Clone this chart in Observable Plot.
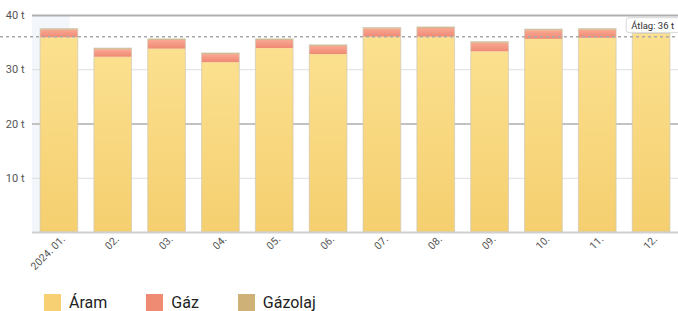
<!DOCTYPE html>
<html><head><meta charset="utf-8">
<script src="https://cdn.jsdelivr.net/npm/d3@7"></script>
<script src="https://cdn.jsdelivr.net/npm/@observablehq/plot@0.6"></script>
<style>
body{margin:0;background:#fff;font-family:Roboto,sans-serif;overflow:hidden;}
#legend{display:flex;align-items:center;margin:14px 0 0 44px;font-size:16px;color:#222;height:17px;}
.item{display:flex;align-items:center;margin-right:39px;}
.sw{width:17px;height:17px;margin-right:8px;}
</style></head><body><div id="chart"></div><div id="legend"></div>
<script>
const months = ["2024. 01.","02.","03.","04.","05.","06.","07.","08.","09.","10.","11.","12."];
const aram = [35.9,32.3,33.8,31.3,33.9,32.8,36.0,36.0,33.3,35.6,35.8,36.6];
const gaz = [1.4,1.4,1.6,1.5,1.5,1.5,1.5,1.6,1.6,1.6,1.5,0];
const gazolaj = [0.2,0.2,0.2,0.2,0.2,0.2,0.2,0.2,0.2,0.2,0.2,0.1];
const average = 36;
const yTicks = [10,20,30,40];
const series = ["Áram","Gáz","Gázolaj"];
const colors = ["#f6d073","#ef8a73","#cdb177"];

const rows = [];
months.forEach((m,i)=>{
  rows.push({month:m, series:"Áram", value:aram[i]});
  rows.push({month:m, series:"Gáz", value:gaz[i]});
  rows.push({month:m, series:"Gázolaj", value:gazolaj[i]});
});
const totals = months.map((m,i)=>({month:m, total:aram[i]+gaz[i]+gazolaj[i]}));

const W = 678, H = 280;
const plot = Plot.plot({
  width: W, height: H,
  marginLeft: 32, marginRight: 0, marginTop: 15, marginBottom: 48,
  style: {fontFamily: "Roboto, sans-serif", background: "#fff"},
  x: {type: "band", domain: months, paddingInner: 0.3, paddingOuter: 0.15, round: false, label: null},
  y: {domain: [0, 40], label: null},
  color: {domain: series, range: ["url(#gA)","url(#gG)","url(#gO)"]},
  marks: [
    Plot.barY([months[0]], {x: d=>d, y1: 0, y2: 40, fill: "#f3f6fb", dx: -8}),
    Plot.ruleY(yTicks.filter(d=>d===10||d===30), {stroke: "#dedede", strokeWidth: 1}),
    Plot.ruleY(yTicks.filter(d=>d===20), {stroke: "#c2c2c2", strokeWidth: 2}),
    Plot.ruleY(yTicks.filter(d=>d===40), {stroke: "#b0b0b0", strokeWidth: 2}),
    Plot.barY(rows, {x: "month", y: "value", fill: "series", order: series}),
    Plot.barY(totals, {x: "month", y: "total", fill: "none", stroke: "#cfc7b5", strokeOpacity: 0.7, strokeWidth: 1}),
    Plot.ruleY([0], {stroke: "#d0d0d0", strokeWidth: 2}),
    Plot.axisY({ticks: yTicks, tickFormat: d=>`${d} t`, tickSize: 0, tickPadding: 8, fontSize: 11, color: "#555"}),
    Plot.axisX({tickRotate: -45, tickSize: 0, tickPadding: 5, dx: 4, fontSize: 10.5, color: "#555"})
  ]
});
const svg = d3.select(plot);
const defs = svg.insert("defs", ":first-child");
function grad(id, top, bottom){
  const g = defs.append("linearGradient").attr("id", id).attr("x1",0).attr("y1",0).attr("x2",0).attr("y2",1);
  g.append("stop").attr("offset","0%").attr("stop-color",top);
  g.append("stop").attr("offset","100%").attr("stop-color",bottom);
}
grad("gA","#fbe08f","#f5cf6f");
grad("gG","#f9a892","#ef8974");
grad("gO","#d3b986","#cdb177");

document.getElementById("chart").appendChild(plot);

const yS = plot.scale("y");
const ya = yS.apply(average);
svg.append("line").attr("x1",0).attr("x2",W).attr("y1",ya).attr("y2",ya)
  .attr("stroke","#aaa").attr("stroke-width",1.5).attr("stroke-dasharray","3,3");
const lg = svg.append("g").attr("text-anchor","end");
const box = lg.append("rect");
const t = lg.append("text").attr("x",W-4).attr("y",ya-8).attr("font-size",9.5).attr("fill","#333")
  .attr("font-family","Roboto, sans-serif").text(`Átlag: ${average} t`);
const bb = t.node().getBBox();
box.attr("x",bb.x-5).attr("y",ya-19).attr("width",bb.width+12).attr("height",15).attr("rx",3)
  .attr("fill","#fff").attr("stroke","#d8d8d8");

const legend = document.getElementById("legend");
series.forEach((s,i)=>{
  const it = document.createElement("div"); it.className="item";
  it.innerHTML = `<div class="sw" style="background:${colors[i]}"></div><span>${s}</span>`;
  legend.appendChild(it);
});
</script></body></html>
